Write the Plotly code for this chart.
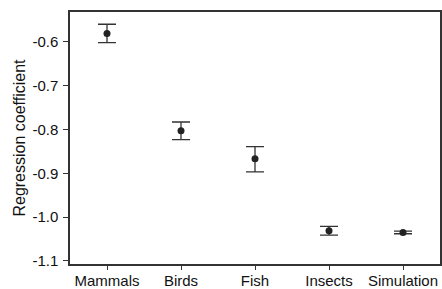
import plotly.graph_objects as go

categories = ["Mammals", "Birds", "Fish", "Insects", "Simulation"]
coef = [-0.581, -0.803, -0.867, -1.031, -1.035]
err_plus = [0.021, 0.020, 0.028, 0.010, 0.003]
err_minus = [0.021, 0.020, 0.030, 0.010, 0.003]
y_ticks = [-1.1, -1.0, -0.9, -0.8, -0.7, -0.6]
y_tick_text = ["-1.1", "-1.0", "-0.9", "-0.8", "-0.7", "-0.6"]

fig = go.Figure(go.Scatter(
    x=categories, y=coef, mode="markers",
    marker=dict(color="#222222", size=7),
    error_y=dict(type="data", symmetric=False, array=err_plus, arrayminus=err_minus,
                 color="#333333", thickness=1.3, width=9),
))

fig.update_layout(
    width=442, height=289,
    margin=dict(l=70, r=2, t=12, b=25),
    plot_bgcolor="white", paper_bgcolor="white",
    font=dict(family="Liberation Sans, Arial, sans-serif", size=15, color="#111111"),
    showlegend=False,
)
fig.update_xaxes(
    range=[-0.5, 4.5], showline=True, linecolor="#333333", linewidth=1.5, mirror=True,
    ticks="outside", ticklen=4, tickcolor="#333333", showgrid=False, zeroline=False,
    tickfont=dict(size=15), automargin=False, ticklabelstandoff=-2,
)
fig.update_yaxes(
    range=[-1.107, -0.532], showline=True, linecolor="#333333", linewidth=1.5, mirror=True,
    ticks="outside", ticklen=5, tickcolor="#333333", showgrid=False, zeroline=False,
    tickvals=y_ticks, ticktext=y_tick_text, tickfont=dict(size=15),
    title=dict(text="Regression coefficient", font=dict(size=16), standoff=3),
    automargin=False, ticklabelstandoff=2,
)

fig.write_html("out.html", config={"displayModeBar": False},
               post_script="document.body.style.margin='0';document.body.style.overflow='hidden';")
